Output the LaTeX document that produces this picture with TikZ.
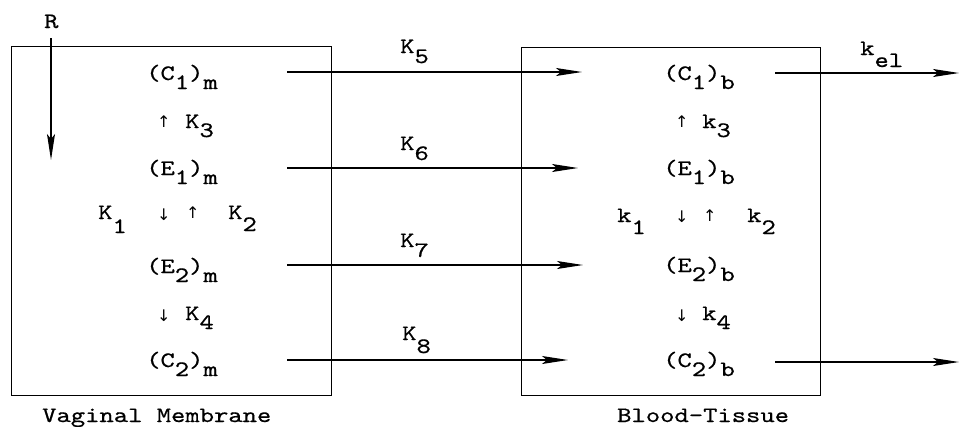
\documentclass[tikz,border=0pt]{standalone}
\usepackage{fontspec}
\newfontfamily\arw{DejaVu Sans}
\newfontfamily\twf[Extension=.otf,FakeStretch=1.24,FakeBold=0.6]{lmmono10-regular}
\usetikzlibrary{arrows.meta}
\newcommand\dn[2][9pt]{\raisebox{-#1}{#2}}
\newcommand\tw{\twf\fontsize{22}{26}\selectfont}
\begin{document}
\begin{tikzpicture}[x=1pt,y=-1pt,
  lbl/.style={anchor=base west, inner sep=0pt, font=\tw},
  sym/.style={anchor=base west, inner sep=0pt, font=\arw\fontsize{16}{18}\selectfont},
  box/.style={draw, line width=1.4pt, inner sep=0pt, anchor=north west},
  flow/.style={line width=1.3pt, -{Stealth[length=26pt,width=8pt,inset=5pt]}},
]
\useasboundingbox (0,0) rectangle (959,426);
% compartments
\node[box, minimum width=320pt, minimum height=349pt] (vm) at (11,46) {};
\node[box, minimum width=299pt, minimum height=348pt] (bt) at (521,47) {};
\node[lbl] (vml) at (42,422) {Vaginal Membrane};
\node[lbl] (btl) at (617,422) {Blood-Tissue};
% dose
\node[lbl] (R) at (44,28) {R};
\coordinate (r0) at (51,38);
\coordinate (r1) at (51,160);
\draw[flow] (r0) -- (r1);
% membrane species
\node[lbl] (c1m) at (146,80) {(C\dn{1})\dn{m}};
\node[sym] (a3m) at (157,127) {↑};
\node[lbl] (k3m) at (185,128) {K\dn{3}};
\node[lbl] (e1m) at (146,175) {(E\dn{1})\dn{m}};
\node[lbl] (k1m) at (98,219) {K\dn[14pt]{1}};
\node[sym] (a1m) at (157,220) {↓};
\node[sym] (a2m) at (186,218) {↑};
\node[lbl] (k2m) at (228,219) {K\dn[12pt]{2}};
\node[lbl] (e2m) at (146,273) {(E\dn{2})\dn{m}};
\node[sym] (a4m) at (157,321) {↓};
\node[lbl] (k4m) at (185,320) {K\dn{4}};
\node[lbl] (c2m) at (146,367) {(C\dn{2})\dn{m}};
% blood species
\node[lbl] (c1b) at (663,80) {(C\dn{1})\dn{b}};
\node[sym] (a3b) at (675,127) {↑};
\node[lbl] (k3b) at (702,128) {k\dn{3}};
\node[lbl] (e1b) at (663,175) {(E\dn{1})\dn{b}};
\node[lbl] (k1b) at (617,222) {k\dn[12pt]{1}};
\node[sym] (a1b) at (675,222) {↓};
\node[sym] (a2b) at (703,221) {↑};
\node[lbl] (k2b) at (747,222) {k\dn[12pt]{2}};
\node[lbl] (e2b) at (663,272) {(E\dn{2})\dn{b}};
\node[sym] (a4b) at (675,321) {↓};
\node[lbl] (k4b) at (702,320) {k\dn{4}};
\node[lbl] (c2b) at (663,367) {(C\dn{2})\dn{b}};
% transfer arrows
\coordinate (s5) at (287,72);  \coordinate (t5) at (582,72);
\coordinate (s6) at (287,168); \coordinate (t6) at (578,168);
\coordinate (s7) at (287,265); \coordinate (t7) at (583,265);
\coordinate (s8) at (287,360); \coordinate (t8) at (568,360);
\draw[flow] (s5) -- (t5);
\draw[flow] (s6) -- (t6);
\draw[flow] (s7) -- (t7);
\draw[flow] (s8) -- (t8);
\node[lbl] (k5) at (400,53) {K\dn[10pt]{5}};
\node[lbl] (k6) at (400,150) {K\dn[10pt]{6}};
\node[lbl] (k7) at (400,247) {K\dn[10pt]{7}};
\node[lbl] (k8) at (402,340) {K\dn[13pt]{8}};
% elimination
\coordinate (se1) at (775,73);  \coordinate (te1) at (959,73);
\coordinate (se2) at (775,362); \coordinate (te2) at (959,362);
\draw[flow] (se1) -- (te1);
\draw[flow] (se2) -- (te2);
\node[lbl] (kel) at (860,55) {k\dn[12pt]{el}};
\end{tikzpicture}
\end{document}
